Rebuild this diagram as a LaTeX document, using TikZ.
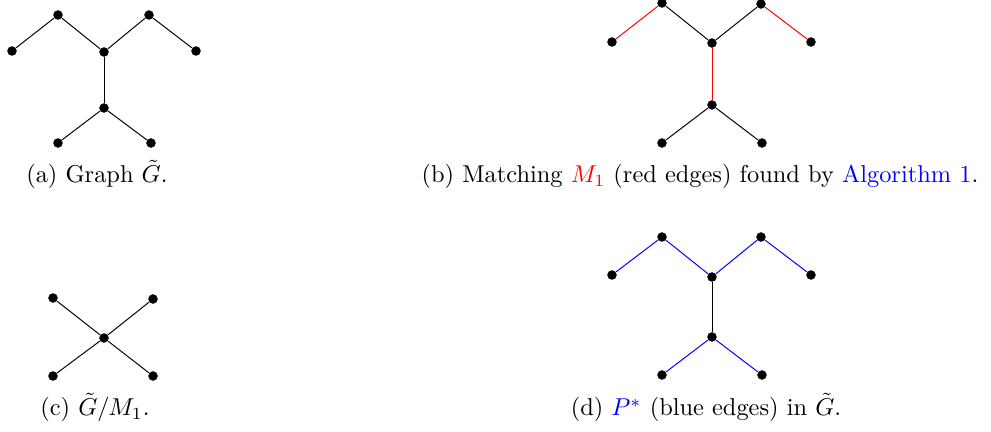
\documentclass[tikz,border=0pt]{standalone}
\usepackage{xcolor}
\begin{document}
\begin{tikzpicture}[x=0.41pt,y=-0.41pt]
    \tikzstyle{vtx}=[circle,fill=black,inner sep=0pt,minimum size=3.9pt]
    \tikzstyle{subcap}=[anchor=base,inner sep=0pt]
    \useasboundingbox (0,0) rectangle (991,432);

    % (a) the graph
    \node[vtx] (a1) at (12,51) {};
    \node[vtx] (a2) at (58,15) {};
    \node[vtx] (a3) at (104,52) {};
    \node[vtx] (a4) at (149,15) {};
    \node[vtx] (a5) at (196,51) {};
    \node[vtx] (a6) at (104,108) {};
    \node[vtx] (a7) at (58,143) {};
    \node[vtx] (a8) at (151,143) {};
    \draw (a1) -- (a2) -- (a3) -- (a4) -- (a5);
    \draw (a3) -- (a6);
    \draw (a7) -- (a6) -- (a8);
    \node[subcap] (capa) at (97,183) {(a) Graph $\tilde{G}$.};

    % (b) matching
    \node[vtx] (b1) at (612,42) {};
    \node[vtx] (b2) at (662,3) {};
    \node[vtx] (b3) at (712,43) {};
    \node[vtx] (b4) at (761,4) {};
    \node[vtx] (b5) at (811,42) {};
    \node[vtx] (b6) at (712,105) {};
    \node[vtx] (b7) at (662,143) {};
    \node[vtx] (b8) at (762,143) {};
    \draw[red] (b1) -- (b2);
    \draw (b2) -- (b3) -- (b4);
    \draw[red] (b4) -- (b5);
    \draw[red] (b3) -- (b6);
    \draw (b7) -- (b6) -- (b8);
    \node[subcap] (capb) at (700,183) {(b) Matching \textcolor{red}{$M_1$} (red edges) found by \textcolor{blue}{Algorithm 1}.};

    % (c) contracted graph
    \node[vtx] (c1) at (53,298) {};
    \node[vtx] (c2) at (153,299) {};
    \node[vtx] (c3) at (104,338) {};
    \node[vtx] (c4) at (53,376) {};
    \node[vtx] (c5) at (153,376) {};
    \draw (c1) -- (c3) -- (c5);
    \draw (c2) -- (c3) -- (c4);
    \node[subcap] (capc) at (95,416) {(c) $\tilde{G}/M_1$.};

    % (d) the path P*
    \node[vtx] (d1) at (612,275) {};
    \node[vtx] (d2) at (662,237) {};
    \node[vtx] (d3) at (712,277) {};
    \node[vtx] (d4) at (761,237) {};
    \node[vtx] (d5) at (811,275) {};
    \node[vtx] (d6) at (712,337) {};
    \node[vtx] (d7) at (662,375) {};
    \node[vtx] (d8) at (762,375) {};
    \draw[blue] (d1) -- (d2) -- (d3) -- (d4) -- (d5);
    \draw (d3) -- (d6);
    \draw[blue] (d7) -- (d6) -- (d8);
    \node[subcap] (capd) at (706,416) {(d) \textcolor{blue}{$P^*$} (blue edges) in $\tilde{G}$.};
\end{tikzpicture}
\end{document}
